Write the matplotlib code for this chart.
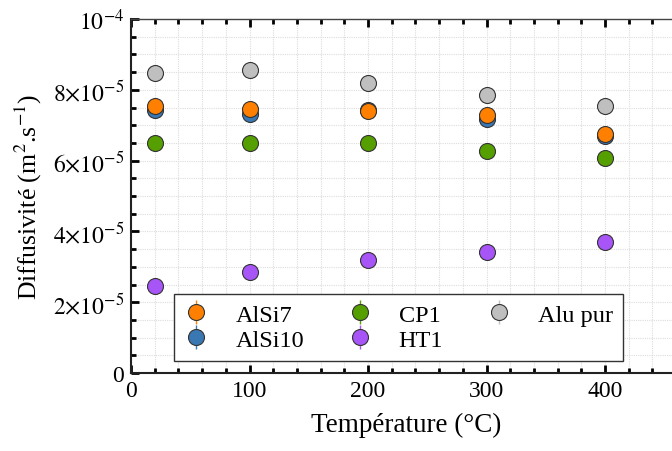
import numpy as np
import matplotlib
matplotlib.use("Agg")
import matplotlib.pyplot as plt
from matplotlib.ticker import MultipleLocator, FuncFormatter

plt.rcParams['font.family'] = ['Liberation Serif', 'DejaVu Serif']
plt.rcParams['mathtext.fontset'] = 'stix'

# temperatures (°C)
temp = [20, 100, 200, 300, 400]

# diffusivity (m2/s)
alsi7 = [7.54e-5, 7.47e-5, 7.40e-5, 7.30e-5, 6.76e-5]
alsi10 = [7.42e-5, 7.31e-5, 7.44e-5, 7.19e-5, 6.71e-5]
cp1 = [6.51e-5, 6.51e-5, 6.49e-5, 6.28e-5, 6.08e-5]
ht1 = [2.47e-5, 2.84e-5, 3.19e-5, 3.43e-5, 3.69e-5]
alu_pur = [8.48e-5, 8.56e-5, 8.20e-5, 7.86e-5, 7.54e-5]

# small error bars (mostly hidden behind the markers)
err = [0.1e-5, 0.1e-5, 0.1e-5, 0.1e-5, 0.1e-5]

series = [('AlSi7', alsi7, '#ff8000'),
          ('AlSi10', alsi10, '#3a78b4'),
          ('CP1', cp1, '#55a000'),
          ('HT1', ht1, '#a855f7'),
          ('Alu pur', alu_pur, '#bfbfbf')]

fig = plt.figure(figsize=(6.72, 4.52), dpi=100)
ax = fig.add_axes([0.195, 0.1726, 0.82, 0.783])

# plot blue under orange
order = [1, 0, 2, 3, 4]
handles = {}
for i in order:
    name, vals, col = series[i]
    h = ax.errorbar(temp, vals, yerr=err, fmt='o', color=col, ecolor=col,
                    markersize=11.5, markeredgecolor='#333333', markeredgewidth=0.8,
                    elinewidth=1, capsize=0, label=name, zorder=3)
    handles[name] = h

ax.set_xlim(0, 465)
ax.set_ylim(0, 1e-4)
ax.xaxis.set_major_locator(MultipleLocator(100))
ax.xaxis.set_minor_locator(MultipleLocator(20))
ax.yaxis.set_major_locator(MultipleLocator(2e-5))
ax.yaxis.set_minor_locator(MultipleLocator(0.5e-5))

def yfmt(v, pos):
    if abs(v) < 1e-12:
        return '0'
    m = v / 1e-5
    if abs(m - 10) < 1e-6:
        return r'$10^{-4}$'
    return r'$%d{\times}10^{-5}$' % round(m)

ax.yaxis.set_major_formatter(FuncFormatter(yfmt))

ax.grid(which='both', color='#dddddd', linestyle=(0, (1, 1)), linewidth=0.8, zorder=0)
ax.set_axisbelow(True)

ax.tick_params(which='both', direction='in', top=True, right=False, labelsize=17, pad=5)
ax.tick_params(which='major', length=6, width=2)
ax.tick_params(which='minor', length=3.5, width=2)
for s in ['left', 'bottom']:
    ax.spines[s].set_linewidth(1.5)
    ax.spines[s].set_color('#222222')
ax.spines['top'].set_linewidth(1.0)
ax.spines['top'].set_color('#444444')

ax.set_xlabel('Température (°C)', fontsize=19.5, labelpad=8)
ax.set_ylabel('Diffusivité (m$^2$.s$^{-1}$)', fontsize=18.5, labelpad=6)

leg_names = ['AlSi7', 'AlSi10', 'CP1', 'HT1', 'Alu pur']
leg = ax.legend([handles[n] for n in leg_names], leg_names, ncol=3,
                loc='lower left', bbox_to_anchor=(0.078, 0.034), borderaxespad=0,
                fontsize=17.5, fancybox=False, edgecolor='#333333', framealpha=1,
                handletextpad=1.1, columnspacing=1.8, labelspacing=0.12,
                borderpad=0.42, handlelength=1.0)
leg.get_frame().set_linewidth(1.0)

fig.savefig('out.png', dpi=100)
